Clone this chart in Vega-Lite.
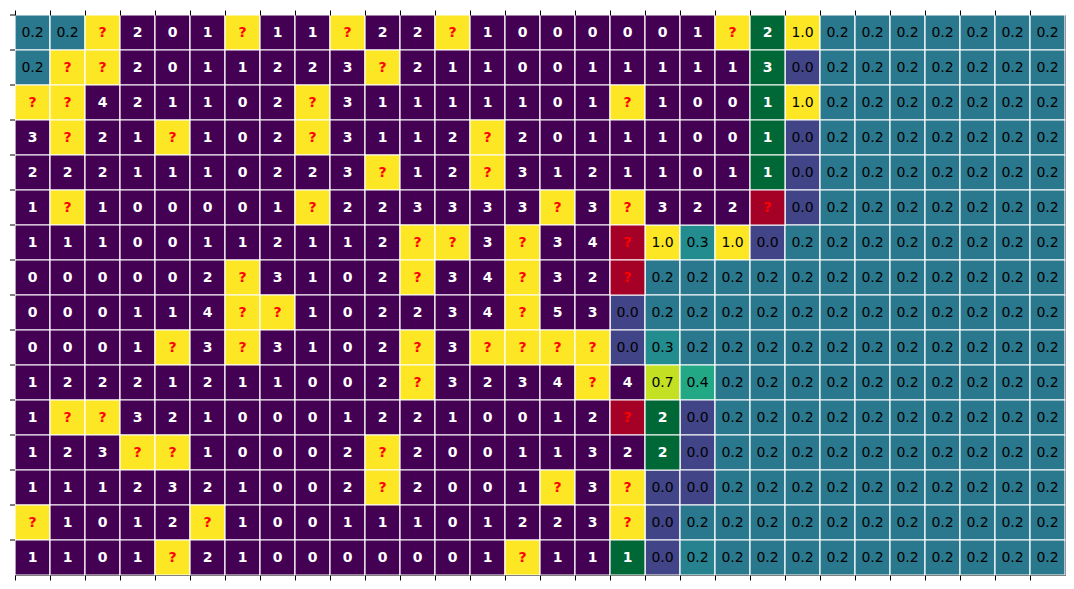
{
"$schema": "https://vega.github.io/schema/vega-lite/v6.json",
"width": 1050, "height": 560,
"autosize": {"type": "none"},
"padding": {"left": 15, "top": 15, "right": 9, "bottom": 14},
"background": "white",
"config": {
  "view": {"stroke": "black", "strokeWidth": 1},
  "axis": {"labels": false, "title": null, "domain": false, "grid": false, "ticks": true, "tickSize": 5, "tickColor": "black", "tickWidth": 1, "bandPosition": 0}
},
"data": {"values": [
{"r":0,"c":0,"k":"p","t":"0.2","v":0.2},{"r":0,"c":1,"k":"p","t":"0.2","v":0.2},{"r":0,"c":2,"k":"u","t":"?"},{"r":0,"c":3,"k":"n","t":"2"},{"r":0,"c":4,"k":"n","t":"0"},{"r":0,"c":5,"k":"n","t":"1"},{"r":0,"c":6,"k":"u","t":"?"},{"r":0,"c":7,"k":"n","t":"1"},{"r":0,"c":8,"k":"n","t":"1"},{"r":0,"c":9,"k":"u","t":"?"},{"r":0,"c":10,"k":"n","t":"2"},{"r":0,"c":11,"k":"n","t":"2"},{"r":0,"c":12,"k":"u","t":"?"},{"r":0,"c":13,"k":"n","t":"1"},{"r":0,"c":14,"k":"n","t":"0"},{"r":0,"c":15,"k":"n","t":"0"},{"r":0,"c":16,"k":"n","t":"0"},{"r":0,"c":17,"k":"n","t":"0"},{"r":0,"c":18,"k":"n","t":"0"},{"r":0,"c":19,"k":"n","t":"1"},{"r":0,"c":20,"k":"u","t":"?"},{"r":0,"c":21,"k":"s","t":"2"},{"r":0,"c":22,"k":"p","t":"1.0","v":1.0},{"r":0,"c":23,"k":"p","t":"0.2","v":0.2},{"r":0,"c":24,"k":"p","t":"0.2","v":0.2},{"r":0,"c":25,"k":"p","t":"0.2","v":0.2},{"r":0,"c":26,"k":"p","t":"0.2","v":0.2},{"r":0,"c":27,"k":"p","t":"0.2","v":0.2},{"r":0,"c":28,"k":"p","t":"0.2","v":0.2},{"r":0,"c":29,"k":"p","t":"0.2","v":0.2},
{"r":1,"c":0,"k":"p","t":"0.2","v":0.2},{"r":1,"c":1,"k":"u","t":"?"},{"r":1,"c":2,"k":"u","t":"?"},{"r":1,"c":3,"k":"n","t":"2"},{"r":1,"c":4,"k":"n","t":"0"},{"r":1,"c":5,"k":"n","t":"1"},{"r":1,"c":6,"k":"n","t":"1"},{"r":1,"c":7,"k":"n","t":"2"},{"r":1,"c":8,"k":"n","t":"2"},{"r":1,"c":9,"k":"n","t":"3"},{"r":1,"c":10,"k":"u","t":"?"},{"r":1,"c":11,"k":"n","t":"2"},{"r":1,"c":12,"k":"n","t":"1"},{"r":1,"c":13,"k":"n","t":"1"},{"r":1,"c":14,"k":"n","t":"0"},{"r":1,"c":15,"k":"n","t":"0"},{"r":1,"c":16,"k":"n","t":"1"},{"r":1,"c":17,"k":"n","t":"1"},{"r":1,"c":18,"k":"n","t":"1"},{"r":1,"c":19,"k":"n","t":"1"},{"r":1,"c":20,"k":"n","t":"1"},{"r":1,"c":21,"k":"s","t":"3"},{"r":1,"c":22,"k":"p","t":"0.0","v":0.0},{"r":1,"c":23,"k":"p","t":"0.2","v":0.2},{"r":1,"c":24,"k":"p","t":"0.2","v":0.2},{"r":1,"c":25,"k":"p","t":"0.2","v":0.2},{"r":1,"c":26,"k":"p","t":"0.2","v":0.2},{"r":1,"c":27,"k":"p","t":"0.2","v":0.2},{"r":1,"c":28,"k":"p","t":"0.2","v":0.2},{"r":1,"c":29,"k":"p","t":"0.2","v":0.2},
{"r":2,"c":0,"k":"u","t":"?"},{"r":2,"c":1,"k":"u","t":"?"},{"r":2,"c":2,"k":"n","t":"4"},{"r":2,"c":3,"k":"n","t":"2"},{"r":2,"c":4,"k":"n","t":"1"},{"r":2,"c":5,"k":"n","t":"1"},{"r":2,"c":6,"k":"n","t":"0"},{"r":2,"c":7,"k":"n","t":"2"},{"r":2,"c":8,"k":"u","t":"?"},{"r":2,"c":9,"k":"n","t":"3"},{"r":2,"c":10,"k":"n","t":"1"},{"r":2,"c":11,"k":"n","t":"1"},{"r":2,"c":12,"k":"n","t":"1"},{"r":2,"c":13,"k":"n","t":"1"},{"r":2,"c":14,"k":"n","t":"1"},{"r":2,"c":15,"k":"n","t":"0"},{"r":2,"c":16,"k":"n","t":"1"},{"r":2,"c":17,"k":"u","t":"?"},{"r":2,"c":18,"k":"n","t":"1"},{"r":2,"c":19,"k":"n","t":"0"},{"r":2,"c":20,"k":"n","t":"0"},{"r":2,"c":21,"k":"s","t":"1"},{"r":2,"c":22,"k":"p","t":"1.0","v":1.0},{"r":2,"c":23,"k":"p","t":"0.2","v":0.2},{"r":2,"c":24,"k":"p","t":"0.2","v":0.2},{"r":2,"c":25,"k":"p","t":"0.2","v":0.2},{"r":2,"c":26,"k":"p","t":"0.2","v":0.2},{"r":2,"c":27,"k":"p","t":"0.2","v":0.2},{"r":2,"c":28,"k":"p","t":"0.2","v":0.2},{"r":2,"c":29,"k":"p","t":"0.2","v":0.2},
{"r":3,"c":0,"k":"n","t":"3"},{"r":3,"c":1,"k":"u","t":"?"},{"r":3,"c":2,"k":"n","t":"2"},{"r":3,"c":3,"k":"n","t":"1"},{"r":3,"c":4,"k":"u","t":"?"},{"r":3,"c":5,"k":"n","t":"1"},{"r":3,"c":6,"k":"n","t":"0"},{"r":3,"c":7,"k":"n","t":"2"},{"r":3,"c":8,"k":"u","t":"?"},{"r":3,"c":9,"k":"n","t":"3"},{"r":3,"c":10,"k":"n","t":"1"},{"r":3,"c":11,"k":"n","t":"1"},{"r":3,"c":12,"k":"n","t":"2"},{"r":3,"c":13,"k":"u","t":"?"},{"r":3,"c":14,"k":"n","t":"2"},{"r":3,"c":15,"k":"n","t":"0"},{"r":3,"c":16,"k":"n","t":"1"},{"r":3,"c":17,"k":"n","t":"1"},{"r":3,"c":18,"k":"n","t":"1"},{"r":3,"c":19,"k":"n","t":"0"},{"r":3,"c":20,"k":"n","t":"0"},{"r":3,"c":21,"k":"s","t":"1"},{"r":3,"c":22,"k":"p","t":"0.0","v":0.0},{"r":3,"c":23,"k":"p","t":"0.2","v":0.2},{"r":3,"c":24,"k":"p","t":"0.2","v":0.2},{"r":3,"c":25,"k":"p","t":"0.2","v":0.2},{"r":3,"c":26,"k":"p","t":"0.2","v":0.2},{"r":3,"c":27,"k":"p","t":"0.2","v":0.2},{"r":3,"c":28,"k":"p","t":"0.2","v":0.2},{"r":3,"c":29,"k":"p","t":"0.2","v":0.2},
{"r":4,"c":0,"k":"n","t":"2"},{"r":4,"c":1,"k":"n","t":"2"},{"r":4,"c":2,"k":"n","t":"2"},{"r":4,"c":3,"k":"n","t":"1"},{"r":4,"c":4,"k":"n","t":"1"},{"r":4,"c":5,"k":"n","t":"1"},{"r":4,"c":6,"k":"n","t":"0"},{"r":4,"c":7,"k":"n","t":"2"},{"r":4,"c":8,"k":"n","t":"2"},{"r":4,"c":9,"k":"n","t":"3"},{"r":4,"c":10,"k":"u","t":"?"},{"r":4,"c":11,"k":"n","t":"1"},{"r":4,"c":12,"k":"n","t":"2"},{"r":4,"c":13,"k":"u","t":"?"},{"r":4,"c":14,"k":"n","t":"3"},{"r":4,"c":15,"k":"n","t":"1"},{"r":4,"c":16,"k":"n","t":"2"},{"r":4,"c":17,"k":"n","t":"1"},{"r":4,"c":18,"k":"n","t":"1"},{"r":4,"c":19,"k":"n","t":"0"},{"r":4,"c":20,"k":"n","t":"1"},{"r":4,"c":21,"k":"s","t":"1"},{"r":4,"c":22,"k":"p","t":"0.0","v":0.0},{"r":4,"c":23,"k":"p","t":"0.2","v":0.2},{"r":4,"c":24,"k":"p","t":"0.2","v":0.2},{"r":4,"c":25,"k":"p","t":"0.2","v":0.2},{"r":4,"c":26,"k":"p","t":"0.2","v":0.2},{"r":4,"c":27,"k":"p","t":"0.2","v":0.2},{"r":4,"c":28,"k":"p","t":"0.2","v":0.2},{"r":4,"c":29,"k":"p","t":"0.2","v":0.2},
{"r":5,"c":0,"k":"n","t":"1"},{"r":5,"c":1,"k":"u","t":"?"},{"r":5,"c":2,"k":"n","t":"1"},{"r":5,"c":3,"k":"n","t":"0"},{"r":5,"c":4,"k":"n","t":"0"},{"r":5,"c":5,"k":"n","t":"0"},{"r":5,"c":6,"k":"n","t":"0"},{"r":5,"c":7,"k":"n","t":"1"},{"r":5,"c":8,"k":"u","t":"?"},{"r":5,"c":9,"k":"n","t":"2"},{"r":5,"c":10,"k":"n","t":"2"},{"r":5,"c":11,"k":"n","t":"3"},{"r":5,"c":12,"k":"n","t":"3"},{"r":5,"c":13,"k":"n","t":"3"},{"r":5,"c":14,"k":"n","t":"3"},{"r":5,"c":15,"k":"u","t":"?"},{"r":5,"c":16,"k":"n","t":"3"},{"r":5,"c":17,"k":"u","t":"?"},{"r":5,"c":18,"k":"n","t":"3"},{"r":5,"c":19,"k":"n","t":"2"},{"r":5,"c":20,"k":"n","t":"2"},{"r":5,"c":21,"k":"m","t":"?"},{"r":5,"c":22,"k":"p","t":"0.0","v":0.0},{"r":5,"c":23,"k":"p","t":"0.2","v":0.2},{"r":5,"c":24,"k":"p","t":"0.2","v":0.2},{"r":5,"c":25,"k":"p","t":"0.2","v":0.2},{"r":5,"c":26,"k":"p","t":"0.2","v":0.2},{"r":5,"c":27,"k":"p","t":"0.2","v":0.2},{"r":5,"c":28,"k":"p","t":"0.2","v":0.2},{"r":5,"c":29,"k":"p","t":"0.2","v":0.2},
{"r":6,"c":0,"k":"n","t":"1"},{"r":6,"c":1,"k":"n","t":"1"},{"r":6,"c":2,"k":"n","t":"1"},{"r":6,"c":3,"k":"n","t":"0"},{"r":6,"c":4,"k":"n","t":"0"},{"r":6,"c":5,"k":"n","t":"1"},{"r":6,"c":6,"k":"n","t":"1"},{"r":6,"c":7,"k":"n","t":"2"},{"r":6,"c":8,"k":"n","t":"1"},{"r":6,"c":9,"k":"n","t":"1"},{"r":6,"c":10,"k":"n","t":"2"},{"r":6,"c":11,"k":"u","t":"?"},{"r":6,"c":12,"k":"u","t":"?"},{"r":6,"c":13,"k":"n","t":"3"},{"r":6,"c":14,"k":"u","t":"?"},{"r":6,"c":15,"k":"n","t":"3"},{"r":6,"c":16,"k":"n","t":"4"},{"r":6,"c":17,"k":"m","t":"?"},{"r":6,"c":18,"k":"p","t":"1.0","v":1.0},{"r":6,"c":19,"k":"p","t":"0.3","v":0.28},{"r":6,"c":20,"k":"p","t":"1.0","v":1.0},{"r":6,"c":21,"k":"p","t":"0.0","v":0.0},{"r":6,"c":22,"k":"p","t":"0.2","v":0.2},{"r":6,"c":23,"k":"p","t":"0.2","v":0.2},{"r":6,"c":24,"k":"p","t":"0.2","v":0.2},{"r":6,"c":25,"k":"p","t":"0.2","v":0.2},{"r":6,"c":26,"k":"p","t":"0.2","v":0.2},{"r":6,"c":27,"k":"p","t":"0.2","v":0.2},{"r":6,"c":28,"k":"p","t":"0.2","v":0.2},{"r":6,"c":29,"k":"p","t":"0.2","v":0.2},
{"r":7,"c":0,"k":"n","t":"0"},{"r":7,"c":1,"k":"n","t":"0"},{"r":7,"c":2,"k":"n","t":"0"},{"r":7,"c":3,"k":"n","t":"0"},{"r":7,"c":4,"k":"n","t":"0"},{"r":7,"c":5,"k":"n","t":"2"},{"r":7,"c":6,"k":"u","t":"?"},{"r":7,"c":7,"k":"n","t":"3"},{"r":7,"c":8,"k":"n","t":"1"},{"r":7,"c":9,"k":"n","t":"0"},{"r":7,"c":10,"k":"n","t":"2"},{"r":7,"c":11,"k":"u","t":"?"},{"r":7,"c":12,"k":"n","t":"3"},{"r":7,"c":13,"k":"n","t":"4"},{"r":7,"c":14,"k":"u","t":"?"},{"r":7,"c":15,"k":"n","t":"3"},{"r":7,"c":16,"k":"n","t":"2"},{"r":7,"c":17,"k":"m","t":"?"},{"r":7,"c":18,"k":"p","t":"0.2","v":0.2},{"r":7,"c":19,"k":"p","t":"0.2","v":0.2},{"r":7,"c":20,"k":"p","t":"0.2","v":0.2},{"r":7,"c":21,"k":"p","t":"0.2","v":0.2},{"r":7,"c":22,"k":"p","t":"0.2","v":0.2},{"r":7,"c":23,"k":"p","t":"0.2","v":0.2},{"r":7,"c":24,"k":"p","t":"0.2","v":0.2},{"r":7,"c":25,"k":"p","t":"0.2","v":0.2},{"r":7,"c":26,"k":"p","t":"0.2","v":0.2},{"r":7,"c":27,"k":"p","t":"0.2","v":0.2},{"r":7,"c":28,"k":"p","t":"0.2","v":0.2},{"r":7,"c":29,"k":"p","t":"0.2","v":0.2},
{"r":8,"c":0,"k":"n","t":"0"},{"r":8,"c":1,"k":"n","t":"0"},{"r":8,"c":2,"k":"n","t":"0"},{"r":8,"c":3,"k":"n","t":"1"},{"r":8,"c":4,"k":"n","t":"1"},{"r":8,"c":5,"k":"n","t":"4"},{"r":8,"c":6,"k":"u","t":"?"},{"r":8,"c":7,"k":"u","t":"?"},{"r":8,"c":8,"k":"n","t":"1"},{"r":8,"c":9,"k":"n","t":"0"},{"r":8,"c":10,"k":"n","t":"2"},{"r":8,"c":11,"k":"n","t":"2"},{"r":8,"c":12,"k":"n","t":"3"},{"r":8,"c":13,"k":"n","t":"4"},{"r":8,"c":14,"k":"u","t":"?"},{"r":8,"c":15,"k":"n","t":"5"},{"r":8,"c":16,"k":"n","t":"3"},{"r":8,"c":17,"k":"p","t":"0.0","v":0.0},{"r":8,"c":18,"k":"p","t":"0.2","v":0.2},{"r":8,"c":19,"k":"p","t":"0.2","v":0.2},{"r":8,"c":20,"k":"p","t":"0.2","v":0.2},{"r":8,"c":21,"k":"p","t":"0.2","v":0.2},{"r":8,"c":22,"k":"p","t":"0.2","v":0.2},{"r":8,"c":23,"k":"p","t":"0.2","v":0.2},{"r":8,"c":24,"k":"p","t":"0.2","v":0.2},{"r":8,"c":25,"k":"p","t":"0.2","v":0.2},{"r":8,"c":26,"k":"p","t":"0.2","v":0.2},{"r":8,"c":27,"k":"p","t":"0.2","v":0.2},{"r":8,"c":28,"k":"p","t":"0.2","v":0.2},{"r":8,"c":29,"k":"p","t":"0.2","v":0.2},
{"r":9,"c":0,"k":"n","t":"0"},{"r":9,"c":1,"k":"n","t":"0"},{"r":9,"c":2,"k":"n","t":"0"},{"r":9,"c":3,"k":"n","t":"1"},{"r":9,"c":4,"k":"u","t":"?"},{"r":9,"c":5,"k":"n","t":"3"},{"r":9,"c":6,"k":"u","t":"?"},{"r":9,"c":7,"k":"n","t":"3"},{"r":9,"c":8,"k":"n","t":"1"},{"r":9,"c":9,"k":"n","t":"0"},{"r":9,"c":10,"k":"n","t":"2"},{"r":9,"c":11,"k":"u","t":"?"},{"r":9,"c":12,"k":"n","t":"3"},{"r":9,"c":13,"k":"u","t":"?"},{"r":9,"c":14,"k":"u","t":"?"},{"r":9,"c":15,"k":"u","t":"?"},{"r":9,"c":16,"k":"u","t":"?"},{"r":9,"c":17,"k":"p","t":"0.0","v":0.0},{"r":9,"c":18,"k":"p","t":"0.3","v":0.28},{"r":9,"c":19,"k":"p","t":"0.2","v":0.2},{"r":9,"c":20,"k":"p","t":"0.2","v":0.2},{"r":9,"c":21,"k":"p","t":"0.2","v":0.2},{"r":9,"c":22,"k":"p","t":"0.2","v":0.2},{"r":9,"c":23,"k":"p","t":"0.2","v":0.2},{"r":9,"c":24,"k":"p","t":"0.2","v":0.2},{"r":9,"c":25,"k":"p","t":"0.2","v":0.2},{"r":9,"c":26,"k":"p","t":"0.2","v":0.2},{"r":9,"c":27,"k":"p","t":"0.2","v":0.2},{"r":9,"c":28,"k":"p","t":"0.2","v":0.2},{"r":9,"c":29,"k":"p","t":"0.2","v":0.2},
{"r":10,"c":0,"k":"n","t":"1"},{"r":10,"c":1,"k":"n","t":"2"},{"r":10,"c":2,"k":"n","t":"2"},{"r":10,"c":3,"k":"n","t":"2"},{"r":10,"c":4,"k":"n","t":"1"},{"r":10,"c":5,"k":"n","t":"2"},{"r":10,"c":6,"k":"n","t":"1"},{"r":10,"c":7,"k":"n","t":"1"},{"r":10,"c":8,"k":"n","t":"0"},{"r":10,"c":9,"k":"n","t":"0"},{"r":10,"c":10,"k":"n","t":"2"},{"r":10,"c":11,"k":"u","t":"?"},{"r":10,"c":12,"k":"n","t":"3"},{"r":10,"c":13,"k":"n","t":"2"},{"r":10,"c":14,"k":"n","t":"3"},{"r":10,"c":15,"k":"n","t":"4"},{"r":10,"c":16,"k":"u","t":"?"},{"r":10,"c":17,"k":"n","t":"4"},{"r":10,"c":18,"k":"p","t":"0.7","v":0.71},{"r":10,"c":19,"k":"p","t":"0.4","v":0.4},{"r":10,"c":20,"k":"p","t":"0.2","v":0.2},{"r":10,"c":21,"k":"p","t":"0.2","v":0.2},{"r":10,"c":22,"k":"p","t":"0.2","v":0.2},{"r":10,"c":23,"k":"p","t":"0.2","v":0.2},{"r":10,"c":24,"k":"p","t":"0.2","v":0.2},{"r":10,"c":25,"k":"p","t":"0.2","v":0.2},{"r":10,"c":26,"k":"p","t":"0.2","v":0.2},{"r":10,"c":27,"k":"p","t":"0.2","v":0.2},{"r":10,"c":28,"k":"p","t":"0.2","v":0.2},{"r":10,"c":29,"k":"p","t":"0.2","v":0.2},
{"r":11,"c":0,"k":"n","t":"1"},{"r":11,"c":1,"k":"u","t":"?"},{"r":11,"c":2,"k":"u","t":"?"},{"r":11,"c":3,"k":"n","t":"3"},{"r":11,"c":4,"k":"n","t":"2"},{"r":11,"c":5,"k":"n","t":"1"},{"r":11,"c":6,"k":"n","t":"0"},{"r":11,"c":7,"k":"n","t":"0"},{"r":11,"c":8,"k":"n","t":"0"},{"r":11,"c":9,"k":"n","t":"1"},{"r":11,"c":10,"k":"n","t":"2"},{"r":11,"c":11,"k":"n","t":"2"},{"r":11,"c":12,"k":"n","t":"1"},{"r":11,"c":13,"k":"n","t":"0"},{"r":11,"c":14,"k":"n","t":"0"},{"r":11,"c":15,"k":"n","t":"1"},{"r":11,"c":16,"k":"n","t":"2"},{"r":11,"c":17,"k":"m","t":"?"},{"r":11,"c":18,"k":"s","t":"2"},{"r":11,"c":19,"k":"p","t":"0.0","v":0.0},{"r":11,"c":20,"k":"p","t":"0.2","v":0.2},{"r":11,"c":21,"k":"p","t":"0.2","v":0.2},{"r":11,"c":22,"k":"p","t":"0.2","v":0.2},{"r":11,"c":23,"k":"p","t":"0.2","v":0.2},{"r":11,"c":24,"k":"p","t":"0.2","v":0.2},{"r":11,"c":25,"k":"p","t":"0.2","v":0.2},{"r":11,"c":26,"k":"p","t":"0.2","v":0.2},{"r":11,"c":27,"k":"p","t":"0.2","v":0.2},{"r":11,"c":28,"k":"p","t":"0.2","v":0.2},{"r":11,"c":29,"k":"p","t":"0.2","v":0.2},
{"r":12,"c":0,"k":"n","t":"1"},{"r":12,"c":1,"k":"n","t":"2"},{"r":12,"c":2,"k":"n","t":"3"},{"r":12,"c":3,"k":"u","t":"?"},{"r":12,"c":4,"k":"u","t":"?"},{"r":12,"c":5,"k":"n","t":"1"},{"r":12,"c":6,"k":"n","t":"0"},{"r":12,"c":7,"k":"n","t":"0"},{"r":12,"c":8,"k":"n","t":"0"},{"r":12,"c":9,"k":"n","t":"2"},{"r":12,"c":10,"k":"u","t":"?"},{"r":12,"c":11,"k":"n","t":"2"},{"r":12,"c":12,"k":"n","t":"0"},{"r":12,"c":13,"k":"n","t":"0"},{"r":12,"c":14,"k":"n","t":"1"},{"r":12,"c":15,"k":"n","t":"1"},{"r":12,"c":16,"k":"n","t":"3"},{"r":12,"c":17,"k":"n","t":"2"},{"r":12,"c":18,"k":"s","t":"2"},{"r":12,"c":19,"k":"p","t":"0.0","v":0.0},{"r":12,"c":20,"k":"p","t":"0.2","v":0.2},{"r":12,"c":21,"k":"p","t":"0.2","v":0.2},{"r":12,"c":22,"k":"p","t":"0.2","v":0.2},{"r":12,"c":23,"k":"p","t":"0.2","v":0.2},{"r":12,"c":24,"k":"p","t":"0.2","v":0.2},{"r":12,"c":25,"k":"p","t":"0.2","v":0.2},{"r":12,"c":26,"k":"p","t":"0.2","v":0.2},{"r":12,"c":27,"k":"p","t":"0.2","v":0.2},{"r":12,"c":28,"k":"p","t":"0.2","v":0.2},{"r":12,"c":29,"k":"p","t":"0.2","v":0.2},
{"r":13,"c":0,"k":"n","t":"1"},{"r":13,"c":1,"k":"n","t":"1"},{"r":13,"c":2,"k":"n","t":"1"},{"r":13,"c":3,"k":"n","t":"2"},{"r":13,"c":4,"k":"n","t":"3"},{"r":13,"c":5,"k":"n","t":"2"},{"r":13,"c":6,"k":"n","t":"1"},{"r":13,"c":7,"k":"n","t":"0"},{"r":13,"c":8,"k":"n","t":"0"},{"r":13,"c":9,"k":"n","t":"2"},{"r":13,"c":10,"k":"u","t":"?"},{"r":13,"c":11,"k":"n","t":"2"},{"r":13,"c":12,"k":"n","t":"0"},{"r":13,"c":13,"k":"n","t":"0"},{"r":13,"c":14,"k":"n","t":"1"},{"r":13,"c":15,"k":"u","t":"?"},{"r":13,"c":16,"k":"n","t":"3"},{"r":13,"c":17,"k":"u","t":"?"},{"r":13,"c":18,"k":"p","t":"0.0","v":0.0},{"r":13,"c":19,"k":"p","t":"0.0","v":0.0},{"r":13,"c":20,"k":"p","t":"0.2","v":0.2},{"r":13,"c":21,"k":"p","t":"0.2","v":0.2},{"r":13,"c":22,"k":"p","t":"0.2","v":0.2},{"r":13,"c":23,"k":"p","t":"0.2","v":0.2},{"r":13,"c":24,"k":"p","t":"0.2","v":0.2},{"r":13,"c":25,"k":"p","t":"0.2","v":0.2},{"r":13,"c":26,"k":"p","t":"0.2","v":0.2},{"r":13,"c":27,"k":"p","t":"0.2","v":0.2},{"r":13,"c":28,"k":"p","t":"0.2","v":0.2},{"r":13,"c":29,"k":"p","t":"0.2","v":0.2},
{"r":14,"c":0,"k":"u","t":"?"},{"r":14,"c":1,"k":"n","t":"1"},{"r":14,"c":2,"k":"n","t":"0"},{"r":14,"c":3,"k":"n","t":"1"},{"r":14,"c":4,"k":"n","t":"2"},{"r":14,"c":5,"k":"u","t":"?"},{"r":14,"c":6,"k":"n","t":"1"},{"r":14,"c":7,"k":"n","t":"0"},{"r":14,"c":8,"k":"n","t":"0"},{"r":14,"c":9,"k":"n","t":"1"},{"r":14,"c":10,"k":"n","t":"1"},{"r":14,"c":11,"k":"n","t":"1"},{"r":14,"c":12,"k":"n","t":"0"},{"r":14,"c":13,"k":"n","t":"1"},{"r":14,"c":14,"k":"n","t":"2"},{"r":14,"c":15,"k":"n","t":"2"},{"r":14,"c":16,"k":"n","t":"3"},{"r":14,"c":17,"k":"u","t":"?"},{"r":14,"c":18,"k":"p","t":"0.0","v":0.0},{"r":14,"c":19,"k":"p","t":"0.2","v":0.2},{"r":14,"c":20,"k":"p","t":"0.2","v":0.2},{"r":14,"c":21,"k":"p","t":"0.2","v":0.2},{"r":14,"c":22,"k":"p","t":"0.2","v":0.2},{"r":14,"c":23,"k":"p","t":"0.2","v":0.2},{"r":14,"c":24,"k":"p","t":"0.2","v":0.2},{"r":14,"c":25,"k":"p","t":"0.2","v":0.2},{"r":14,"c":26,"k":"p","t":"0.2","v":0.2},{"r":14,"c":27,"k":"p","t":"0.2","v":0.2},{"r":14,"c":28,"k":"p","t":"0.2","v":0.2},{"r":14,"c":29,"k":"p","t":"0.2","v":0.2},
{"r":15,"c":0,"k":"n","t":"1"},{"r":15,"c":1,"k":"n","t":"1"},{"r":15,"c":2,"k":"n","t":"0"},{"r":15,"c":3,"k":"n","t":"1"},{"r":15,"c":4,"k":"u","t":"?"},{"r":15,"c":5,"k":"n","t":"2"},{"r":15,"c":6,"k":"n","t":"1"},{"r":15,"c":7,"k":"n","t":"0"},{"r":15,"c":8,"k":"n","t":"0"},{"r":15,"c":9,"k":"n","t":"0"},{"r":15,"c":10,"k":"n","t":"0"},{"r":15,"c":11,"k":"n","t":"0"},{"r":15,"c":12,"k":"n","t":"0"},{"r":15,"c":13,"k":"n","t":"1"},{"r":15,"c":14,"k":"u","t":"?"},{"r":15,"c":15,"k":"n","t":"1"},{"r":15,"c":16,"k":"n","t":"1"},{"r":15,"c":17,"k":"s","t":"1"},{"r":15,"c":18,"k":"p","t":"0.0","v":0.0},{"r":15,"c":19,"k":"p","t":"0.2","v":0.24},{"r":15,"c":20,"k":"p","t":"0.2","v":0.2},{"r":15,"c":21,"k":"p","t":"0.2","v":0.2},{"r":15,"c":22,"k":"p","t":"0.2","v":0.2},{"r":15,"c":23,"k":"p","t":"0.2","v":0.2},{"r":15,"c":24,"k":"p","t":"0.2","v":0.2},{"r":15,"c":25,"k":"p","t":"0.2","v":0.2},{"r":15,"c":26,"k":"p","t":"0.2","v":0.2},{"r":15,"c":27,"k":"p","t":"0.2","v":0.2},{"r":15,"c":28,"k":"p","t":"0.2","v":0.2},{"r":15,"c":29,"k":"p","t":"0.2","v":0.2}
]},
"encoding": {
  "x": {"field": "c", "type": "ordinal", "sort": "ascending", "scale": {"paddingInner": 0, "paddingOuter": 0}, "axis": null},
  "y": {"field": "r", "type": "ordinal", "sort": "ascending", "scale": {"paddingInner": 0, "paddingOuter": 0}, "axis": null}
},
"layer": [
  {
    "transform": [{"filter": "datum.k == 'p'"}],
    "mark": {"type": "rect", "stroke": "white", "strokeWidth": 1.2},
    "encoding": {
      "x": {"field": "c", "type": "ordinal", "sort": "ascending", "scale": {"paddingInner": 0, "paddingOuter": 0}, "axis": {"orient": "bottom"}},
      "color": {"field": "v", "type": "quantitative", "scale": {"scheme": "viridis", "domain": [-0.2, 0.8], "clamp": true}, "legend": null}
    }
  },
  {
    "transform": [{"filter": "datum.k != 'p'"}],
    "mark": {"type": "rect", "stroke": "white", "strokeWidth": 1.2},
    "encoding": {
      "x": {"field": "c", "type": "ordinal", "sort": "ascending", "scale": {"paddingInner": 0, "paddingOuter": 0}, "axis": {"orient": "top"}},
      "color": {"field": "k", "type": "nominal", "scale": {"domain": ["n", "u", "s", "m"], "range": ["#440154", "#fde725", "#006837", "#a50026"]}, "legend": null}
    }
  },
  {
    "transform": [{"filter": "datum.c == 0"}],
    "mark": {"type": "rule", "color": "black", "strokeWidth": 1, "x2Offset": -5},
    "encoding": {
      "x": {"field": "c", "type": "ordinal", "sort": "ascending", "bandPosition": 0, "scale": {"paddingInner": 0, "paddingOuter": 0}, "axis": null},
      "x2": {"field": "c", "bandPosition": 0},
      "y": {"field": "r", "type": "ordinal", "sort": "ascending", "bandPosition": 0, "scale": {"paddingInner": 0, "paddingOuter": 0}, "axis": null}
    }
  },
  {
    "transform": [{"filter": "datum.k == 'n' || datum.k == 's'"}],
    "mark": {"type": "text", "color": "white", "fontWeight": "bold", "font": "DejaVu Sans", "fontSize": 14, "align": "center", "baseline": "middle"},
    "encoding": {"text": {"field": "t", "type": "nominal"}}
  },
  {
    "transform": [{"filter": "datum.k == 'u' || datum.k == 'm'"}],
    "mark": {"type": "text", "color": "red", "fontWeight": "bold", "font": "DejaVu Sans", "fontSize": 14, "align": "center", "baseline": "middle"},
    "encoding": {"text": {"field": "t", "type": "nominal"}}
  },
  {
    "transform": [{"filter": "datum.k == 'p'"}],
    "mark": {"type": "text", "color": "black", "font": "DejaVu Sans", "fontSize": 14, "align": "center", "baseline": "middle"},
    "encoding": {"text": {"field": "t", "type": "nominal"}}
  }
],
"resolve": {"scale": {"color": "independent"}, "axis": {"x": "independent"}}
}
